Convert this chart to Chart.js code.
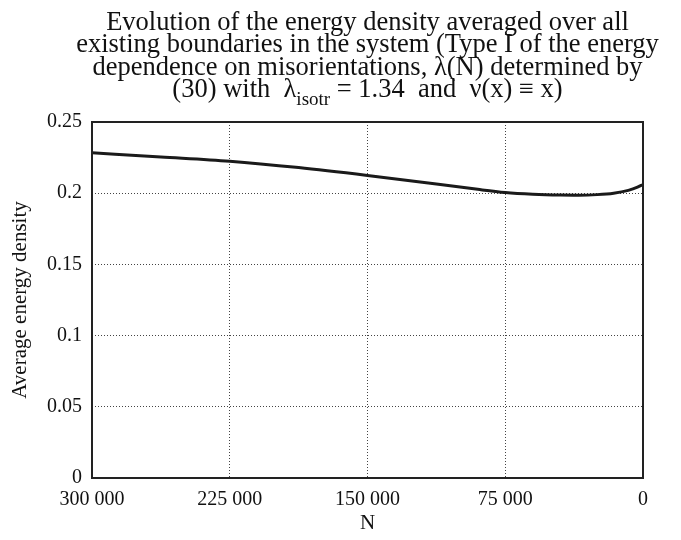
<!DOCTYPE html>
<html>
<head>
<meta charset="utf-8">
<script src="https://cdn.jsdelivr.net/npm/chart.js@4.4.1/dist/chart.umd.min.js"></script>
<style>
    html, body { margin: 0; padding: 0; background: #fff; }
    #wrap { position: relative; width: 681px; height: 540px; }
    #title {
        position: absolute; left: 67px; width: 601px; top: 10px;
        text-align: center; white-space: nowrap;
        font-family: "Liberation Serif", "Times New Roman", serif;
        font-size: 26.5px; line-height: 22.4px; color: #111;
    }
    #title sub { font-size: 19px; line-height: 0; vertical-align: -8px; }
</style>
</head>
<body>
<div id="wrap">
    <div id="title">
        Evolution of the energy density averaged over all<br>
        existing boundaries in the system (Type I of the energy<br>
        dependence on misorientations, λ(N) determined by<br>
        (30) with&nbsp; λ<sub>isotr</sub> = 1.34&nbsp; and&nbsp; ν(x) ≡ x)
    </div>
    <canvas id="energy-chart" width="681" height="540"></canvas>
</div>
<script>
// Number of grains N (axis runs from 300 000 down to 0)
const grainCounts = [300000, 262500, 225000, 187500, 150000, 112500, 90000, 75000,
                     60000, 45000, 35000, 25000, 16000, 8000, 3000, 0];
// Average energy density over all existing boundaries
const avgEnergy = [0.2284, 0.2255, 0.2225, 0.2180, 0.2125, 0.2065, 0.2027, 0.2005,
                   0.1993, 0.1987, 0.1986, 0.1990, 0.2000, 0.2020, 0.2042, 0.2061];

const xTickValues = [300000, 225000, 150000, 75000, 0];
const yTickValues = [0, 0.05, 0.1, 0.15, 0.2, 0.25];

const serif = '"Liberation Serif", "Times New Roman", serif';

/**
 * Format number with a space for thousands
 */
function formatThousands(n) {
    return n.toString().replace(/\B(?=(\d{3})+(?!\d))/g, ' ');
}

// Solid frame round the plot area, drawn over the dotted grid
const frameBox = {
    id: 'frameBox',
    afterDatasetsDraw(chart) {
        const { ctx, chartArea: a } = chart;
        ctx.save();
        ctx.strokeStyle = '#222';
        ctx.lineWidth = 2;
        ctx.strokeRect(a.left, a.top, a.right - a.left, a.bottom - a.top);
        ctx.restore();
    }
};

document.addEventListener('DOMContentLoaded', function() {
    const canvas = document.getElementById('energy-chart');

    new Chart(canvas, {
        type: 'line',
        data: {
            datasets: [{
                data: grainCounts.map((n, i) => ({ x: n, y: avgEnergy[i] })),
                borderColor: '#1a1a1a',
                borderWidth: 3,
                pointRadius: 0,
                cubicInterpolationMode: 'monotone',
                fill: false
            }]
        },
        options: {
            responsive: false,
            animation: false,
            layout: { padding: { top: 122, right: 38, bottom: 0, left: 0 } },
            plugins: { legend: { display: false }, tooltip: { enabled: false } },
            scales: {
                x: {
                    type: 'linear',
                    reverse: true,
                    min: 0,
                    max: 300000,
                    afterBuildTicks: scale => { scale.ticks = xTickValues.map(v => ({ value: v })); },
                    afterFit: scale => { scale.height = 62; },
                    ticks: {
                        color: '#111',
                        padding: 10,
                        maxRotation: 0,
                        font: { family: serif, size: 20 },
                        callback: v => formatThousands(v)
                    },
                    grid: { color: '#444', lineWidth: 1, drawTicks: false },
                    border: { display: false, dash: [1, 2] },
                    title: {
                        display: true,
                        text: 'N',
                        color: '#111',
                        padding: { top: 4, bottom: 4 },
                        font: { family: serif, size: 21 }
                    }
                },
                y: {
                    min: 0,
                    max: 0.25,
                    afterBuildTicks: scale => { scale.ticks = yTickValues.map(v => ({ value: v })); },
                    afterFit: scale => { scale.width = 92; },
                    ticks: {
                        color: '#111',
                        padding: 10,
                        font: { family: serif, size: 20 },
                        callback: v => String(+v.toFixed(2))
                    },
                    grid: { color: '#444', lineWidth: 1, drawTicks: false },
                    border: { display: false, dash: [1, 2] },
                    title: {
                        display: true,
                        text: 'Average energy density',
                        color: '#111',
                        padding: { top: 8, bottom: 4 },
                        font: { family: serif, size: 21 }
                    }
                }
            }
        },
        plugins: [frameBox]
    });
});
</script>
</body>
</html>
